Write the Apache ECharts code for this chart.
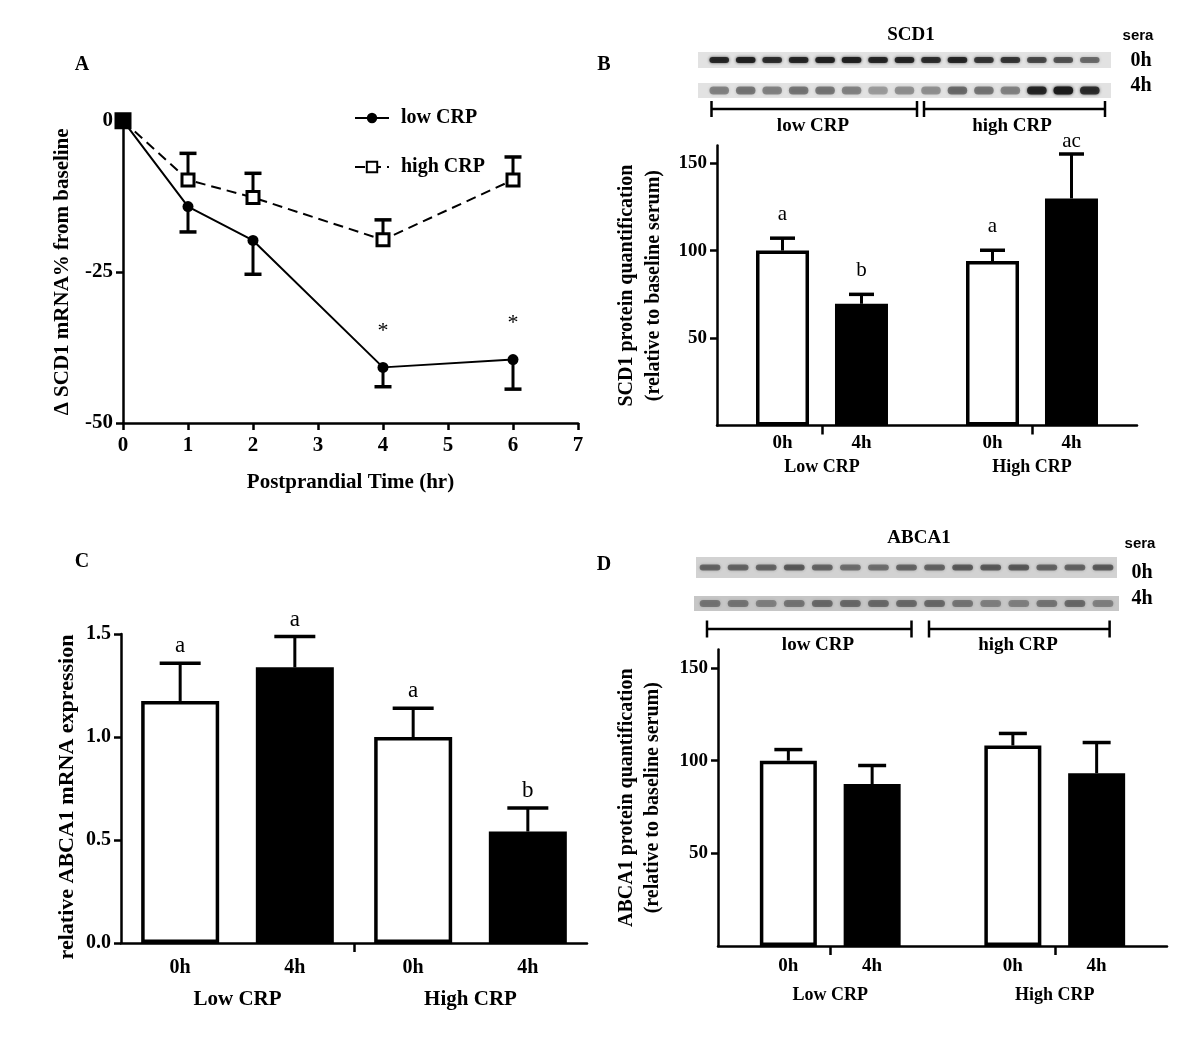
<!DOCTYPE html>
<html><head><meta charset="utf-8">
<style>html,body{margin:0;padding:0;background:#fff}#chart{width:1200px;height:1055px}</style>
<script src="https://cdn.jsdelivr.net/npm/echarts@6.0.0/dist/echarts.min.js"></script>
</head><body><div id="chart"></div>
<script>
// ---------- Panel A : SCD1 mRNA change ----------
const timeHours = [0, 1, 2, 4, 6];
const lowCrpMean = [0, -14.2, -19.8, -40.8, -39.5];
const lowCrpErr = [0, 4.2, 5.6, 3.2, 4.9];
const highCrpMean = [0, -9.8, -12.7, -19.7, -9.8];
const highCrpErr = [0, 4.4, 4.0, 3.3, 3.8];
const lowCrpStars = ['', '', '', '*', '*'];

// ---------- shared categories ----------
const groups = ['Low CRP', 'High CRP'];
const sampleTimes = ['0h', '4h'];

// ---------- Panel B : SCD1 protein ----------
const scd1Prot0h = [100, 94];
const scd1Prot0hErr = [7.1, 6.2];
const scd1Prot4h = [69.6, 129.8];
const scd1Prot4hErr = [5.4, 25.4];
const scd1Letters0h = ['a', 'a'];
const scd1Letters4h = ['b', 'ac'];

// ---------- Panel C : ABCA1 mRNA ----------
const abcaMrna0h = [1.175, 1.0];
const abcaMrna0hErr = [0.183, 0.14];
const abcaMrna4h = [1.338, 0.541];
const abcaMrna4hErr = [0.15, 0.114];
const abcaMrnaLetters0h = ['a', 'a'];
const abcaMrnaLetters4h = ['a', 'b'];

// ---------- Panel D : ABCA1 protein ----------
const abcaProt0h = [100, 108.2];
const abcaProt0hErr = [6, 6.5];
const abcaProt4h = [87.4, 93.2];
const abcaProt4hErr = [10, 16.6];

// ---------- tick labels ----------
const proteinTicks = [50, 100, 150];

// ---------- blot lane intensities (15 lanes: 8 low CRP, 7 high CRP) ----------
const scd1Blot0h = [0.85,0.9,0.8,0.85,0.9,0.9,0.85,0.85,0.8,0.85,0.75,0.75,0.65,0.6,0.5];
const scd1Blot4h = [0.4,0.45,0.4,0.45,0.45,0.4,0.3,0.35,0.35,0.5,0.45,0.4,0.85,0.95,0.8];
const abcaBlot0h = [0.5,0.5,0.5,0.55,0.5,0.45,0.45,0.5,0.5,0.55,0.55,0.55,0.5,0.5,0.55];
const abcaBlot4h = [0.4,0.4,0.35,0.4,0.45,0.45,0.45,0.45,0.45,0.4,0.35,0.35,0.4,0.45,0.35];

const SERIF = 'Liberation Serif, Times New Roman, serif';
const SANS = 'Liberation Sans, Arial, sans-serif';
const LW = 2.5;

function axisBase(fs) {
  return {
    axisLine: {show: true, onZero: false, lineStyle: {color: '#000', width: LW}},
    axisTick: {show: true, length: 7, lineStyle: {color: '#000', width: LW}},
    axisLabel: {color: '#000', fontFamily: SERIF, fontWeight: 'bold', fontSize: fs},
    splitLine: {show: false}
  };
}
function merge(a, b) {
  const o = Object.assign({}, a);
  for (const k in b) {
    if (b[k] && typeof b[k] === 'object' && !Array.isArray(b[k]) && a[k] && typeof a[k] === 'object') o[k] = merge(a[k], b[k]);
    else o[k] = b[k];
  }
  return o;
}

// error bars for the grouped bar panels
function barErrors(axisIdx, means, errs, letters, side, cfg) {
  return {
    type: 'custom', xAxisIndex: axisIdx, yAxisIndex: axisIdx, z: 6, clip: false,
    data: means.map((m, i) => [i, m, errs[i]]),
    renderItem(params, api) {
      const i = api.value(0), m = api.value(1), e = api.value(2);
      const base = api.coord([i, m]);
      const top = api.coord([i, m + e]);
      const ceil = api.coord([i, cfg.yMax])[1] - 4;
      const x = base[0] + side * (cfg.bw * (1 + cfg.gap)) / 2;
      const hw = cfg.cap / 2;
      const children = [
        {type: 'line', shape: {x1: x, y1: base[1], x2: x, y2: top[1]}, style: {stroke: '#000', lineWidth: 3}},
        {type: 'line', shape: {x1: x - hw, y1: top[1], x2: x + hw, y2: top[1]}, style: {stroke: '#000', lineWidth: 3.5}}
      ];
      if (letters && letters[params.dataIndex]) {
        children.push({type: 'text', x: x, y: Math.max(top[1] - cfg.letterGap, ceil),
          style: {text: letters[params.dataIndex], fill: '#000', font: `${cfg.letterSize}px ${SERIF}`, align: 'center', verticalAlign: 'middle'}});
      }
      return {type: 'group', children};
    }
  };
}

// error bars for panel A (dir: -1 downward, +1 upward)
function lineErrors(means, errs, dir, stars) {
  return {
    type: 'custom', xAxisIndex: 0, yAxisIndex: 0, z: 3, clip: false,
    data: timeHours.map((t, i) => [t, means[i], errs[i]]),
    renderItem(params, api) {
      const t = api.value(0), m = api.value(1), e = api.value(2);
      const p = api.coord([t, m]);
      const q = api.coord([t, m + dir * e]);
      const children = [];
      if (e > 0) {
        children.push({type: 'line', shape: {x1: p[0], y1: p[1], x2: q[0], y2: q[1]}, style: {stroke: '#000', lineWidth: 3}});
        children.push({type: 'line', shape: {x1: q[0] - 8.5, y1: q[1], x2: q[0] + 8.5, y2: q[1]}, style: {stroke: '#000', lineWidth: 3.5}});
      }
      if (stars && stars[params.dataIndex]) {
        children.push({type: 'text', x: p[0], y: p[1] - 36,
          style: {text: stars[params.dataIndex], fill: '#000', font: `22px ${SERIF}`, align: 'center', verticalAlign: 'middle'}});
      }
      return {type: 'group', children};
    }
  };
}

function barPair(axisIdx, v0, v4, cfg) {
  const lbl = (t) => ({show: true, position: 'bottom', distance: cfg.lblDist, formatter: t,
    color: '#000', fontFamily: SERIF, fontWeight: 'bold', fontSize: cfg.lblSize});
  return [
    {type: 'bar', xAxisIndex: axisIdx, yAxisIndex: axisIdx, data: v0, barWidth: cfg.bw, barGap: (cfg.gap * 100) + '%',
      itemStyle: {color: '#fff', borderColor: '#000', borderWidth: 3.5}, label: lbl(sampleTimes[0]), z: 4},
    {type: 'bar', xAxisIndex: axisIdx, yAxisIndex: axisIdx, data: v4, barWidth: cfg.bw, barGap: (cfg.gap * 100) + '%',
      itemStyle: {color: '#000', borderColor: '#000', borderWidth: 3.5}, label: lbl(sampleTimes[1]), z: 4}
  ];
}

// blot drawing
function blot(strip, intensities, bandH, bg) {
  const els = [{type: 'rect', shape: {x: strip.x, y: strip.y, width: strip.w, height: strip.h}, style: {fill: bg}}];
  const n = intensities.length, lane = (strip.w - 2 * strip.inset) / n;
  intensities.forEach((v, i) => {
    const cx = strip.x + strip.inset + lane * (i + 0.5);
    els.push({type: 'rect', shape: {x: cx - lane * 0.37, y: strip.y + strip.h / 2 - bandH / 2, width: lane * 0.74, height: bandH, r: bandH / 2},
      style: {fill: `rgba(25,25,25,${v})`, shadowBlur: 3, shadowColor: `rgba(25,25,25,${v})`}});
  });
  return els;
}
function bracket(x1, x2, y, th) {
  const s = {stroke: '#000', lineWidth: LW};
  return [
    {type: 'line', shape: {x1, y1: y, x2, y2: y}, style: s},
    {type: 'line', shape: {x1, y1: y - th, x2: x1, y2: y + th}, style: s},
    {type: 'line', shape: {x1: x2, y1: y - th, x2, y2: y + th}, style: s}
  ];
}
function txt(x, y, text, size, family, weight) {
  return {type: 'text', x, y, style: {text, fill: '#000', font: `${weight || 'bold'} ${size}px ${family || SERIF}`, align: 'center', verticalAlign: 'middle'}};
}

const cfgB = {bw: 53, gap: 0.49, cap: 25, letterGap: 24, letterSize: 21, lblDist: 8, lblSize: 19, yMax: 160};
const cfgC = {bw: 78, gap: 0.47, cap: 41, letterGap: 17, letterSize: 23, lblDist: 15, lblSize: 20, yMax: 1.7};
const cfgD = {bw: 57, gap: 0.47, cap: 28, letterGap: 22, letterSize: 21, lblDist: 11, lblSize: 19, yMax: 160};

const graphics = [].concat(
  [txt(82, 65, 'A', 20), txt(604, 65, 'B', 20), txt(82, 562, 'C', 20), txt(604, 565, 'D', 20)],
  [txt(911, 35, 'SCD1', 19), txt(1138, 36, 'sera', 15, SANS), txt(1141, 61, '0h', 20), txt(1141, 86, '4h', 20)],
  blot({x: 698, y: 52, w: 413, h: 16, inset: 8}, scd1Blot0h, 6, '#e2e2e2'),
  blot({x: 698, y: 83, w: 413, h: 15, inset: 8}, scd1Blot4h, 8, '#e2e2e2'),
  bracket(711.5, 917, 109, 8), bracket(924, 1105, 109, 8),
  [txt(813, 126, 'low CRP', 19), txt(1012, 126, 'high CRP', 19)],
  [txt(919, 538, 'ABCA1', 19), txt(1140, 544, 'sera', 15, SANS), txt(1142, 573, '0h', 20), txt(1142, 599, '4h', 20)],
  blot({x: 696, y: 557, w: 421, h: 21, inset: 0}, abcaBlot0h, 6, '#d2d2d2'),
  blot({x: 694, y: 596, w: 425, h: 15, inset: 2}, abcaBlot4h, 7, '#c6c6c6'),
  bracket(707, 911.5, 629, 8.5), bracket(929, 1109.6, 629, 8.5),
  [txt(818, 645, 'low CRP', 19), txt(1018, 645, 'high CRP', 19)]
);

const option = {
  animation: false,
  backgroundColor: '#fff',
  textStyle: {fontFamily: SERIF},
  graphic: {elements: graphics},
  legend: {
    data: ['low CRP', 'high CRP'], orient: 'vertical', left: 349, top: 103,
    itemWidth: 34, itemHeight: 13, itemGap: 29,
    textStyle: {fontFamily: SERIF, fontWeight: 'bold', fontSize: 20, color: '#000', padding: [0, 0, 0, 7]}
  },
  grid: [
    {left: 123, top: 120.7, width: 455, height: 302.3},
    {left: 717, top: 145.6, width: 420, height: 280},
    {left: 121, top: 634, width: 466, height: 309},
    {left: 718, top: 649.5, width: 449, height: 296.5}
  ],
  xAxis: [
    merge(axisBase(21), {type: 'value', gridIndex: 0, min: 0, max: 7, interval: 1,
      name: 'Postprandial Time (hr)', nameLocation: 'middle', nameGap: 49,
      nameTextStyle: {color: '#000', fontFamily: SERIF, fontWeight: 'bold', fontSize: 21},
      axisLabel: {margin: 12}}),
    merge(axisBase(18), {type: 'category', gridIndex: 1, data: groups,
      axisTick: {alignWithLabel: true, length: 9}, axisLabel: {margin: 33}}),
    merge(axisBase(21), {type: 'category', gridIndex: 2, data: groups,
      axisTick: {show: false}, axisLabel: {margin: 46}}),
    merge(axisBase(18), {type: 'category', gridIndex: 3, data: groups,
      axisTick: {alignWithLabel: true, length: 9}, axisLabel: {margin: 40}}),
    merge(axisBase(20), {type: 'value', gridIndex: 2, min: 0, max: 2, position: 'bottom',
      axisLine: {show: false}, axisLabel: {show: false},
      axisTick: {show: true, length: 9, customValues: [1]}})
  ],
  yAxis: [
    merge(axisBase(21), {type: 'value', gridIndex: 0, min: -50, max: 0, interval: 25,
      name: 'Δ SCD1 mRNA% from baseline', nameLocation: 'middle', nameGap: 50,
      nameTextStyle: {color: '#000', fontFamily: SERIF, fontWeight: 'bold', fontSize: 21},
      axisLabel: {margin: 10}}),
    merge(axisBase(19), {type: 'value', gridIndex: 1, min: 0, max: 160,
      name: 'SCD1 protein quantification\n(relative to baseline serum)', nameLocation: 'middle', nameGap: 50,
      nameTextStyle: {color: '#000', fontFamily: SERIF, fontWeight: 'bold', fontSize: 20, lineHeight: 27},
      axisTick: {customValues: proteinTicks}, axisLabel: {customValues: proteinTicks, margin: 10}}),
    merge(axisBase(20), {type: 'value', gridIndex: 2, min: 0, max: 1.5, interval: 0.5,
      name: 'relative ABCA1 mRNA expression', nameLocation: 'middle', nameGap: 43,
      nameTextStyle: {color: '#000', fontFamily: SERIF, fontWeight: 'bold', fontSize: 22, padding: [0, 17, 0, 0]},
      axisLabel: {margin: 10, formatter: (v) => v.toFixed(1)}}),
    merge(axisBase(19), {type: 'value', gridIndex: 3, min: 0, max: 160,
      name: 'ABCA1 protein quantification\n(relative to baseline serum)', nameLocation: 'middle', nameGap: 52,
      nameTextStyle: {color: '#000', fontFamily: SERIF, fontWeight: 'bold', fontSize: 20, lineHeight: 26},
      axisTick: {customValues: proteinTicks}, axisLabel: {customValues: proteinTicks, margin: 10}})
  ],
  series: [
    lineErrors(lowCrpMean, lowCrpErr, -1, lowCrpStars),
    lineErrors(highCrpMean, highCrpErr, 1, null),
    {type: 'line', name: 'low CRP', xAxisIndex: 0, yAxisIndex: 0, z: 5,
      data: timeHours.map((t, i) => [t, lowCrpMean[i]]),
      symbol: 'circle', symbolSize: 11, itemStyle: {color: '#000'},
      lineStyle: {color: '#000', width: 2}},
    {type: 'line', name: 'high CRP', xAxisIndex: 0, yAxisIndex: 0, z: 6,
      data: timeHours.map((t, i) => (i === 0
        ? {value: [t, highCrpMean[i]], symbolSize: 14, itemStyle: {color: '#000'}}
        : [t, highCrpMean[i]])),
      symbol: 'rect', symbolSize: 12, itemStyle: {color: '#fff', borderColor: '#000', borderWidth: 3},
      lineStyle: {color: '#000', width: 2, type: [10, 6]}},
    ...barPair(1, scd1Prot0h, scd1Prot4h, cfgB),
    barErrors(1, scd1Prot0h, scd1Prot0hErr, scd1Letters0h, -1, cfgB),
    barErrors(1, scd1Prot4h, scd1Prot4hErr, scd1Letters4h, 1, cfgB),
    ...barPair(2, abcaMrna0h, abcaMrna4h, cfgC),
    barErrors(2, abcaMrna0h, abcaMrna0hErr, abcaMrnaLetters0h, -1, cfgC),
    barErrors(2, abcaMrna4h, abcaMrna4hErr, abcaMrnaLetters4h, 1, cfgC),
    ...barPair(3, abcaProt0h, abcaProt4h, cfgD),
    barErrors(3, abcaProt0h, abcaProt0hErr, null, -1, cfgD),
    barErrors(3, abcaProt4h, abcaProt4hErr, null, 1, cfgD)
  ]
};

const chart = echarts.init(document.getElementById('chart'), null, {renderer: 'canvas'});
chart.setOption(option);
</script>
</body></html>
